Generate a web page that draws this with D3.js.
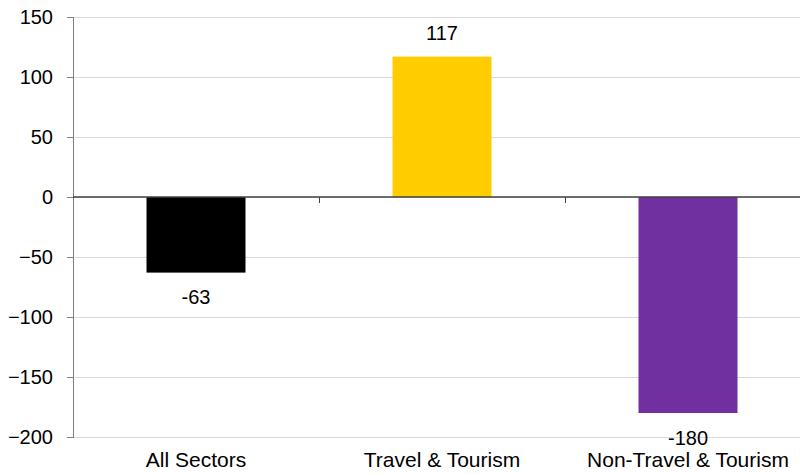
<!DOCTYPE html>
<html lang="en">
<head>
<meta charset="utf-8">
<title>Sectors</title>
<script src="https://cdn.jsdelivr.net/npm/d3@7"></script>
<style>
  body { margin: 0; background: #fff; }
  text { font-family: "Liberation Sans", Arial, sans-serif; fill: #000; }
  .grid line { stroke: #d9d9d9; stroke-width: 1px; shape-rendering: crispEdges; }
  .grid path { display: none; }
  .axeY path, .axeY line { stroke: #808080; shape-rendering: crispEdges; }
  .axeY text { font-size: 20px; font-family: "Liberation Sans", Arial, sans-serif; fill: #000; }
</style>
</head>
<body>
<svg width="800" height="474"></svg>
<script>
const categories = ["All Sectors", "Travel & Tourism", "Non-Travel & Tourism"];
const values = [-63, 117, -180];
const colors = ["#000000", "#ffcc00", "#7030a0"];
const yTicks = [-200, -150, -100, -50, 0, 50, 100, 150];

const svg = d3.select("svg");
const mLeft = 73, mRight = 811, mTop = 17, mBottom = 437;

const x = d3.scaleBand().domain(categories).range([mLeft, mRight]).paddingInner(0).paddingOuter(0);
const y = d3.scaleLinear().domain([-200, 150]).range([mBottom, mTop]);

// grille
svg.append("g")
  .attr("class", "grid")
  .attr("transform", `translate(${mLeft},0)`)
  .call(d3.axisLeft(y).tickValues(yTicks).tickFormat("").tickSize(-(800 - mLeft)));

// barres
const barW = 99;
svg.selectAll("rect.bar")
  .data(values)
  .enter()
  .append("rect")
    .attr("class", "bar")
    .attr("x", (d, i) => x(categories[i]) + (x.bandwidth() - barW) / 2)
    .attr("width", barW)
    .attr("y", d => y(Math.max(0, d)))
    .attr("height", d => Math.abs(y(d) - y(0)))
    .style("fill", (d, i) => colors[i]);

// axe y
svg.append("g")
  .attr("class", "axeY")
  .attr("transform", `translate(${mLeft},0)`)
  .call(d3.axisLeft(y).tickValues(yTicks).tickSize(6).tickPadding(14));

// ligne zero
svg.append("line")
  .attr("x1", mLeft).attr("x2", 800)
  .attr("y1", y(0)).attr("y2", y(0))
  .attr("stroke", "#404040").attr("stroke-width", 1.5);

// tirets de categories
svg.selectAll("line.catTick")
  .data(categories.slice(1))
  .enter()
  .append("line")
    .attr("class", "catTick")
    .attr("x1", d => Math.round(x(d)) + 0.5).attr("x2", d => Math.round(x(d)) + 0.5)
    .attr("y1", y(0)).attr("y2", y(0) + 6)
    .attr("stroke", "#404040");

// etiquettes valeurs
svg.selectAll("text.val")
  .data(values)
  .enter()
  .append("text")
    .attr("class", "val")
    .attr("text-anchor", "middle")
    .style("font-size", "20px")
    .attr("x", (d, i) => x(categories[i]) + x.bandwidth() / 2)
    .attr("y", d => d >= 0 ? y(d) - 16.5 : y(d) + 31.5)
    .text(d => d);

// etiquettes categories
svg.selectAll("text.cat")
  .data(categories)
  .enter()
  .append("text")
    .attr("class", "cat")
    .attr("text-anchor", "middle")
    .style("font-size", "21px")
    .attr("x", d => x(d) + x.bandwidth() / 2)
    .attr("y", 467)
    .text(d => d);
</script>
</body>
</html>
